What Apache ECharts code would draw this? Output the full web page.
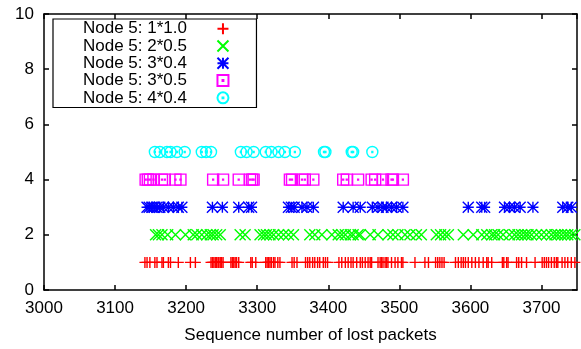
<!DOCTYPE html>
<html>
<head>
<meta charset="utf-8">
<script src="https://cdn.jsdelivr.net/npm/echarts@6/dist/echarts.min.js"></script>
<style>
  html, body { margin: 0; padding: 0; background: #fff; }
  #chart { width: 581px; height: 349px; }
</style>
</head>
<body>
<div id="chart"></div>
<script>
// Sequence numbers of lost packets, one list per configuration
const seriesNames = ['Node 5: 1*1.0', 'Node 5: 2*0.5', 'Node 5: 3*0.4', 'Node 5: 3*0.5', 'Node 5: 4*0.4'];
const rowLevels = [1, 2, 3, 4, 5];

const lost_1x10 = [3142,3145,3149,3156,3159,3166,3168,3175,3178,3189,3206,3213,3235,3237,3239,3241,3243,3245,3246,3248,3250,3252,3263,3265,3267,3269,3271,3274,3291,3293,3298,3312,3314,3316,3318,3320,3323,3325,3329,3332,3349,3352,3356,3368,3371,3374,3378,3381,3385,3388,3393,3396,3399,3415,3419,3424,3428,3432,3435,3440,3445,3448,3452,3456,3459,3461,3470,3473,3475,3477,3480,3482,3484,3489,3494,3498,3503,3505,3522,3536,3541,3551,3554,3557,3560,3563,3579,3583,3587,3590,3593,3597,3602,3607,3612,3618,3623,3625,3630,3645,3647,3651,3653,3665,3668,3672,3679,3691,3701,3704,3707,3710,3714,3718,3721,3723,3729,3733,3737,3742,3747];
const lost_2x05 = [3157,3161,3166,3174,3185,3199,3210,3215,3222,3229,3234,3238,3243,3248,3276,3283,3304,3309,3313,3318,3323,3330,3337,3344,3351,3374,3381,3391,3405,3414,3419,3424,3431,3435,3442,3445,3459,3470,3484,3491,3498,3508,3515,3524,3531,3552,3558,3564,3569,3590,3604,3616,3623,3630,3634,3639,3646,3655,3662,3667,3672,3677,3681,3686,3693,3700,3707,3714,3719,3723,3728,3733,3737,3742,3747];
const lost_3x04 = [3145,3148,3152,3155,3159,3163,3168,3175,3182,3189,3194,3237,3251,3274,3288,3292,3344,3348,3352,3363,3370,3379,3421,3435,3445,3462,3470,3477,3482,3489,3496,3505,3597,3616,3620,3648,3655,3662,3670,3688,3730,3737,3742];
const lost_3x05 = [3143,3146,3149,3154,3166,3170,3185,3192,3238,3252,3274,3290,3293,3295,3346,3349,3363,3367,3379,3421,3426,3442,3461,3466,3477,3489,3491,3505];
const lost_4x04 = [3156,3163,3173,3178,3187,3198,3222,3228,3235,3277,3285,3295,3312,3320,3330,3339,3353,3394,3396,3433,3435,3462];

const xTicks = [3000, 3750, 100];
const yTicks = [0, 10, 2];

const lostLists = [lost_1x10, lost_2x05, lost_3x04, lost_3x05, lost_4x04];

// gnuplot-style point glyphs: plus, cross, asterisk, dotted box, dotted circle
const DOT = 'M4.6,4.6L5.4,4.6L5.4,5.4L4.6,5.4Z';
const glyphs = [
  'path://M0,5L10,5M5,0L5,10',
  'path://M0,0L10,10M10,0L0,10',
  'path://M0,5L10,5M5,0L5,10M0,0L10,10M10,0L0,10',
  'path://M0,0L10,0L10,10L0,10Z' + DOT,
  'path://M0,5A5,5,0,1,1,10,5A5,5,0,1,1,0,5Z' + DOT
];
const colors = ['#ff0000', '#00ff00', '#0000ff', '#ff00ff', '#00ffff'];

const FONT = 'Liberation Sans';

const series = lostLists.map((xs, i) => ({
  name: seriesNames[i],
  type: 'scatter',
  symbol: glyphs[i],
  symbolSize: 11,
  symbolKeepAspect: true,
  clip: false,
  silent: true,
  data: xs.map(x => [x, rowLevels[i]]),
  itemStyle: { color: 'transparent', borderColor: colors[i], borderWidth: 1.4, opacity: 1 }
}));

const axisLineStyle = { color: '#000', width: 1.5 };

const chart = echarts.init(document.getElementById('chart'), null, { renderer: 'canvas' });
chart.setOption({
  animation: false,
  backgroundColor: '#fff',
  grid: { left: 44, right: 4, top: 14, bottom: 59, containLabel: false },
  legend: {
    orient: 'vertical',
    left: 53,
    top: 19,
    align: 'right',
    padding: [1, 27, 1, 30],
    itemGap: 0,
    itemWidth: 62,
    itemHeight: 11,
    symbolKeepAspect: true,
    borderColor: '#000',
    borderWidth: 1.2,
    selectedMode: false,
    textStyle: { fontFamily: FONT, fontSize: 17, color: '#000', lineHeight: 17.3 },
    data: seriesNames
  },
  xAxis: [{
    type: 'value',
    min: xTicks[0], max: xTicks[1], interval: xTicks[2],
    name: 'Sequence number of lost packets',
    nameLocation: 'middle',
    nameGap: 37,
    nameTextStyle: { fontFamily: FONT, fontSize: 17, color: '#000' },
    axisLine: { show: true, lineStyle: axisLineStyle },
    axisTick: { show: true, inside: true, length: 5, lineStyle: axisLineStyle },
    axisLabel: { fontFamily: FONT, fontSize: 17, color: '#000', margin: 10, showMaxLabel: false,
                 formatter: v => String(v) },
    splitLine: { show: false }
  }, {
    type: 'value', position: 'top',
    min: xTicks[0], max: xTicks[1], interval: xTicks[2],
    axisLine: { show: true, onZero: false, lineStyle: axisLineStyle },
    axisTick: { show: true, inside: true, length: 5, lineStyle: axisLineStyle },
    axisLabel: { show: false },
    splitLine: { show: false }
  }],
  yAxis: [{
    type: 'value',
    min: yTicks[0], max: yTicks[1], interval: yTicks[2],
    axisLine: { show: true, lineStyle: axisLineStyle },
    axisTick: { show: true, inside: true, length: 5, lineStyle: axisLineStyle },
    axisLabel: { fontFamily: FONT, fontSize: 17, color: '#000', margin: 10 },
    splitLine: { show: false }
  }, {
    type: 'value', position: 'right',
    min: yTicks[0], max: yTicks[1], interval: yTicks[2],
    axisLine: { show: true, onZero: false, lineStyle: axisLineStyle },
    axisTick: { show: true, inside: true, length: 5, lineStyle: axisLineStyle },
    axisLabel: { show: false },
    splitLine: { show: false }
  }],
  series: series
});
</script>
</body>
</html>
